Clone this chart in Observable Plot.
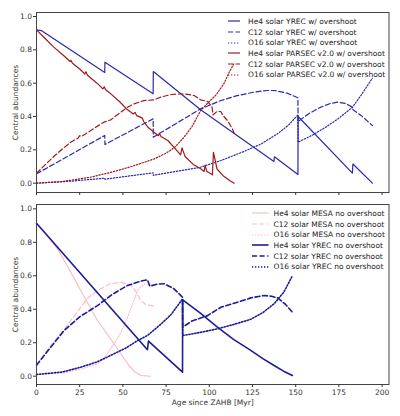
<!DOCTYPE html>
<html><head><meta charset="utf-8">
<script src="https://cdn.jsdelivr.net/npm/d3@7"></script>
<script src="https://cdn.jsdelivr.net/npm/@observablehq/plot@0.6"></script>
<style>
body{margin:0;background:#fff;font-family:"DejaVu Sans",sans-serif;}
#wrap{position:relative;width:400px;height:416px;overflow:hidden;}
.panel{position:absolute;left:0;}
.legend{position:absolute;font-size:7.5px;color:#222;}
.legend .row{display:flex;align-items:center;height:10.7px;white-space:nowrap;}
.legend svg{display:block;}
</style></head><body>
<div id="wrap"></div>
<script>
// ---------- data (age in Myr, central abundance) ----------
const xTicks = [0, 25, 50, 75, 100, 125, 150, 175, 200];
const yTicks = [0, 0.2, 0.4, 0.6, 0.8, 1.0];
const xLabel = "Age since ZAHB [Myr]";
const yLabel = "Central abundances";

// top panel: with overshoot
const yrecOvHe4 = [[0,0.92],[3,0.915],[39.5,0.664],[39.6,0.726],[67.5,0.536],[67.6,0.67],[95,0.44],[137.4,0.13],[137.7,0.158],[151.3,0.052],[151.4,0.40],[182.8,0.06],[183.1,0.115],[194.4,0.0]];
const yrecOvC12 = [[0,0.056],[39.5,0.286],[39.6,0.232],[67.5,0.386],[67.6,0.276],[95,0.446],[106.8,0.496],[116,0.525],[125.9,0.546],[133,0.556],[137.5,0.556],[145,0.54],[151.3,0.512],[151.4,0.37],[158,0.42],[164.5,0.456],[170,0.478],[174.2,0.486],[179,0.478],[182.8,0.456],[183.2,0.44],[188,0.405],[194.4,0.346]];
const yrecOvO16 = [[0,0.0],[20,0.012],[39.5,0.03],[39.6,0.024],[67.5,0.062],[67.6,0.047],[95,0.096],[106.8,0.136],[120,0.19],[130,0.235],[140,0.3],[146,0.35],[151.3,0.41],[151.4,0.246],[160,0.29],[168,0.34],[175,0.39],[182.9,0.456],[188,0.53],[194.4,0.63]];
const parsecHe4 = [[0,0.92],[5,0.868],[10,0.816],[15,0.772],[19.5,0.73],[20,0.736],[20.8,0.72],[25,0.685],[28,0.655],[28.6,0.668],[29.5,0.648],[35,0.6],[38.4,0.566],[39.2,0.578],[40,0.56],[43,0.536],[48,0.49],[52.7,0.44],[56,0.415],[57,0.425],[58,0.405],[61.3,0.39],[62,0.37],[64.5,0.336],[68,0.306],[70.5,0.285],[71.2,0.298],[72,0.28],[76,0.256],[80,0.21],[83.4,0.17],[84.2,0.212],[86,0.16],[91,0.11],[95,0.086],[97,0.07],[97.6,0.108],[98.5,0.072],[101.8,0.05],[102.4,0.185],[104.5,0.085],[108,0.045],[112,0.015],[114.4,0.0]];
const parsecC12 = [[0,0.06],[5,0.11],[10,0.16],[15,0.205],[19.8,0.246],[24,0.27],[25,0.285],[26,0.28],[29,0.3],[31.4,0.316],[35,0.34],[39,0.366],[43,0.38],[48,0.42],[52.7,0.456],[56.5,0.476],[62,0.495],[68,0.5],[71.9,0.516],[77,0.53],[81.6,0.535],[86,0.535],[91.2,0.526],[95,0.5],[99,0.49],[101.5,0.46],[102.2,0.41],[104.5,0.43],[106.6,0.43],[108,0.405],[110.5,0.376],[113.4,0.326],[114.4,0.30]];
const parsecO16 = [[0,0],[15,0.01],[31.4,0.036],[45,0.07],[55,0.1],[68,0.145],[75,0.18],[80,0.215],[85.4,0.276],[90,0.34],[95,0.436],[100,0.49],[104,0.53],[108.6,0.6],[111.5,0.665],[114.4,0.72]];

// bottom panel: no overshoot
const mesaHe4 = [[0,0.914],[6,0.845],[12.1,0.761],[18,0.655],[25.6,0.512],[35.3,0.333],[44.9,0.194],[52.7,0.074],[57,0.025],[60.4,0.004],[66,0.0]];
const mesaC12 = [[0,0.066],[8,0.18],[16,0.28],[25.6,0.412],[30,0.47],[35.3,0.512],[42,0.55],[48.8,0.562],[54.6,0.542],[58,0.5],[60.4,0.452],[63.3,0.428],[66,0.422],[68,0.422]];
const mesaO16 = [[0,0.01],[15,0.02],[25,0.04],[35.3,0.074],[40,0.12],[44.9,0.194],[48.8,0.26],[52.7,0.353],[56,0.44],[58.5,0.512],[62.3,0.552],[65,0.545],[68,0.542]];
const yrecHe4 = [[0,0.914],[64.2,0.158],[64.8,0.21],[84.5,0.024],[84.6,0.456],[95,0.375],[104.7,0.293],[114,0.22],[124,0.154],[131,0.105],[137.5,0.064],[143,0.03],[148.1,0.004]];
const yrecC12 = [[0,0.066],[8,0.17],[16,0.273],[25,0.355],[35.3,0.422],[44,0.49],[52.7,0.542],[60.4,0.568],[64.2,0.576],[65.6,0.538],[70,0.55],[74,0.552],[79.6,0.522],[84.5,0.472],[84.6,0.293],[90,0.33],[99,0.362],[106.7,0.412],[116.3,0.442],[124,0.468],[131.7,0.482],[136,0.478],[139.5,0.468],[144,0.43],[148.1,0.382]];
const yrecO16 = [[0,0.01],[15,0.025],[25.6,0.054],[35,0.085],[44.9,0.134],[52,0.17],[58.5,0.213],[64.2,0.243],[71.9,0.31],[78,0.37],[84.5,0.462],[84.6,0.243],[95,0.262],[104.7,0.283],[114.4,0.31],[124,0.34],[131,0.38],[137.5,0.433],[143,0.5],[148.1,0.6]];

// ---------- styles ----------
const BLUE = "#2a2ab0", RED = "#a31818", NAVY = "#1c1c9a", PINK = "#ffb6c1";
const SOLID = null, DASH = "5,2.6", DOT = "1.3,1.7";

const topSeries = [
  {name:"He4 solar YREC w/ overshoot", data:yrecOvHe4, stroke:BLUE, dash:SOLID, width:1.2},
  {name:"C12 solar YREC w/ overshoot", data:yrecOvC12, stroke:BLUE, dash:DASH, width:1.2},
  {name:"O16 solar YREC w/ overshoot", data:yrecOvO16, stroke:BLUE, dash:DOT, width:1.2},
  {name:"He4 solar PARSEC v2.0 w/ overshoot", data:parsecHe4, stroke:RED, dash:SOLID, width:1.2},
  {name:"C12 solar PARSEC v2.0 w/ overshoot", data:parsecC12, stroke:RED, dash:DASH, width:1.2},
  {name:"O16 solar PARSEC v2.0 w/ overshoot", data:parsecO16, stroke:RED, dash:DOT, width:1.2}
];
const bottomSeries = [
  {name:"He4 solar MESA no overshoot", data:mesaHe4, stroke:PINK, dash:SOLID, width:1.1},
  {name:"C12 solar MESA no overshoot", data:mesaC12, stroke:PINK, dash:DASH, width:1.1},
  {name:"O16 solar MESA no overshoot", data:mesaO16, stroke:PINK, dash:DOT, width:1.1},
  {name:"He4 solar YREC no overshoot", data:yrecHe4, stroke:NAVY, dash:SOLID, width:1.6},
  {name:"C12 solar YREC no overshoot", data:yrecC12, stroke:NAVY, dash:DASH, width:1.6},
  {name:"O16 solar YREC no overshoot", data:yrecO16, stroke:NAVY, dash:DOT, width:1.6}
];

function makePanel({height, marginTop, marginBottom, yDomain, series, showX}) {
  return Plot.plot({
    width: 400, height, marginLeft: 36, marginRight: 11.5, marginTop, marginBottom,
    style: {fontFamily: "DejaVu Sans, sans-serif", fontSize: "7.5px", color: "#333", background: "transparent", overflow: "visible"},
    x: {domain: [0, 204]},
    y: {domain: yDomain},
    marks: [
      ...series.map(s => Plot.line(s.data, {x: d => d[0], y: d => d[1], stroke: s.stroke, strokeWidth: s.width, strokeDasharray: s.dash})),
      Plot.frame({stroke: "#444", strokeWidth: 1}),
      Plot.axisY({ticks: yTicks, tickFormat: d => d.toFixed(1), tickSize: 3, tickPadding: 1.5, label: yLabel, labelAnchor: "center", labelOffset: 24, labelArrow: false}),
      Plot.axisX({ticks: xTicks, tickSize: 3, tickPadding: 2, tickFormat: showX ? (d => String(d)) : (() => ""), label: showX ? xLabel : null, labelAnchor: "center", labelOffset: 20, labelArrow: false})
    ]
  });
}

function makeLegend(series, left, top, lineLen, gap) {
  const div = document.createElement("div");
  div.className = "legend";
  div.style.left = left + "px";
  div.style.top = top + "px";
  for (const s of series) {
    const row = document.createElement("div");
    row.className = "row";
    const svg = d3.create("svg").attr("width", lineLen).attr("height", 6);
    svg.append("line").attr("x1", 0).attr("x2", lineLen).attr("y1", 3).attr("y2", 3)
      .attr("stroke", s.stroke).attr("stroke-width", s.width).attr("stroke-dasharray", s.dash);
    row.appendChild(svg.node());
    const t = document.createElement("span");
    t.style.marginLeft = gap + "px";
    t.textContent = s.name;
    row.appendChild(t);
    div.appendChild(row);
  }
  return div;
}

const wrap = document.getElementById("wrap");
const top1 = makePanel({height: 200, marginTop: 12, marginBottom: 8, yDomain: [-0.056, 1.024], series: topSeries, showX: false});
top1.classList.add("panel"); top1.style.top = "0px";
wrap.appendChild(top1);
const bot = makePanel({height: 216, marginTop: 4, marginBottom: 32, yDomain: [-0.0496, 1.026], series: bottomSeries, showX: true});
bot.classList.add("panel"); bot.style.top = "200px";
wrap.appendChild(bot);

wrap.appendChild(makeLegend(topSeries, 228, 16, 12, 8));
wrap.appendChild(makeLegend(bottomSeries, 252, 208, 16.5, 5));
</script>
</body></html>
